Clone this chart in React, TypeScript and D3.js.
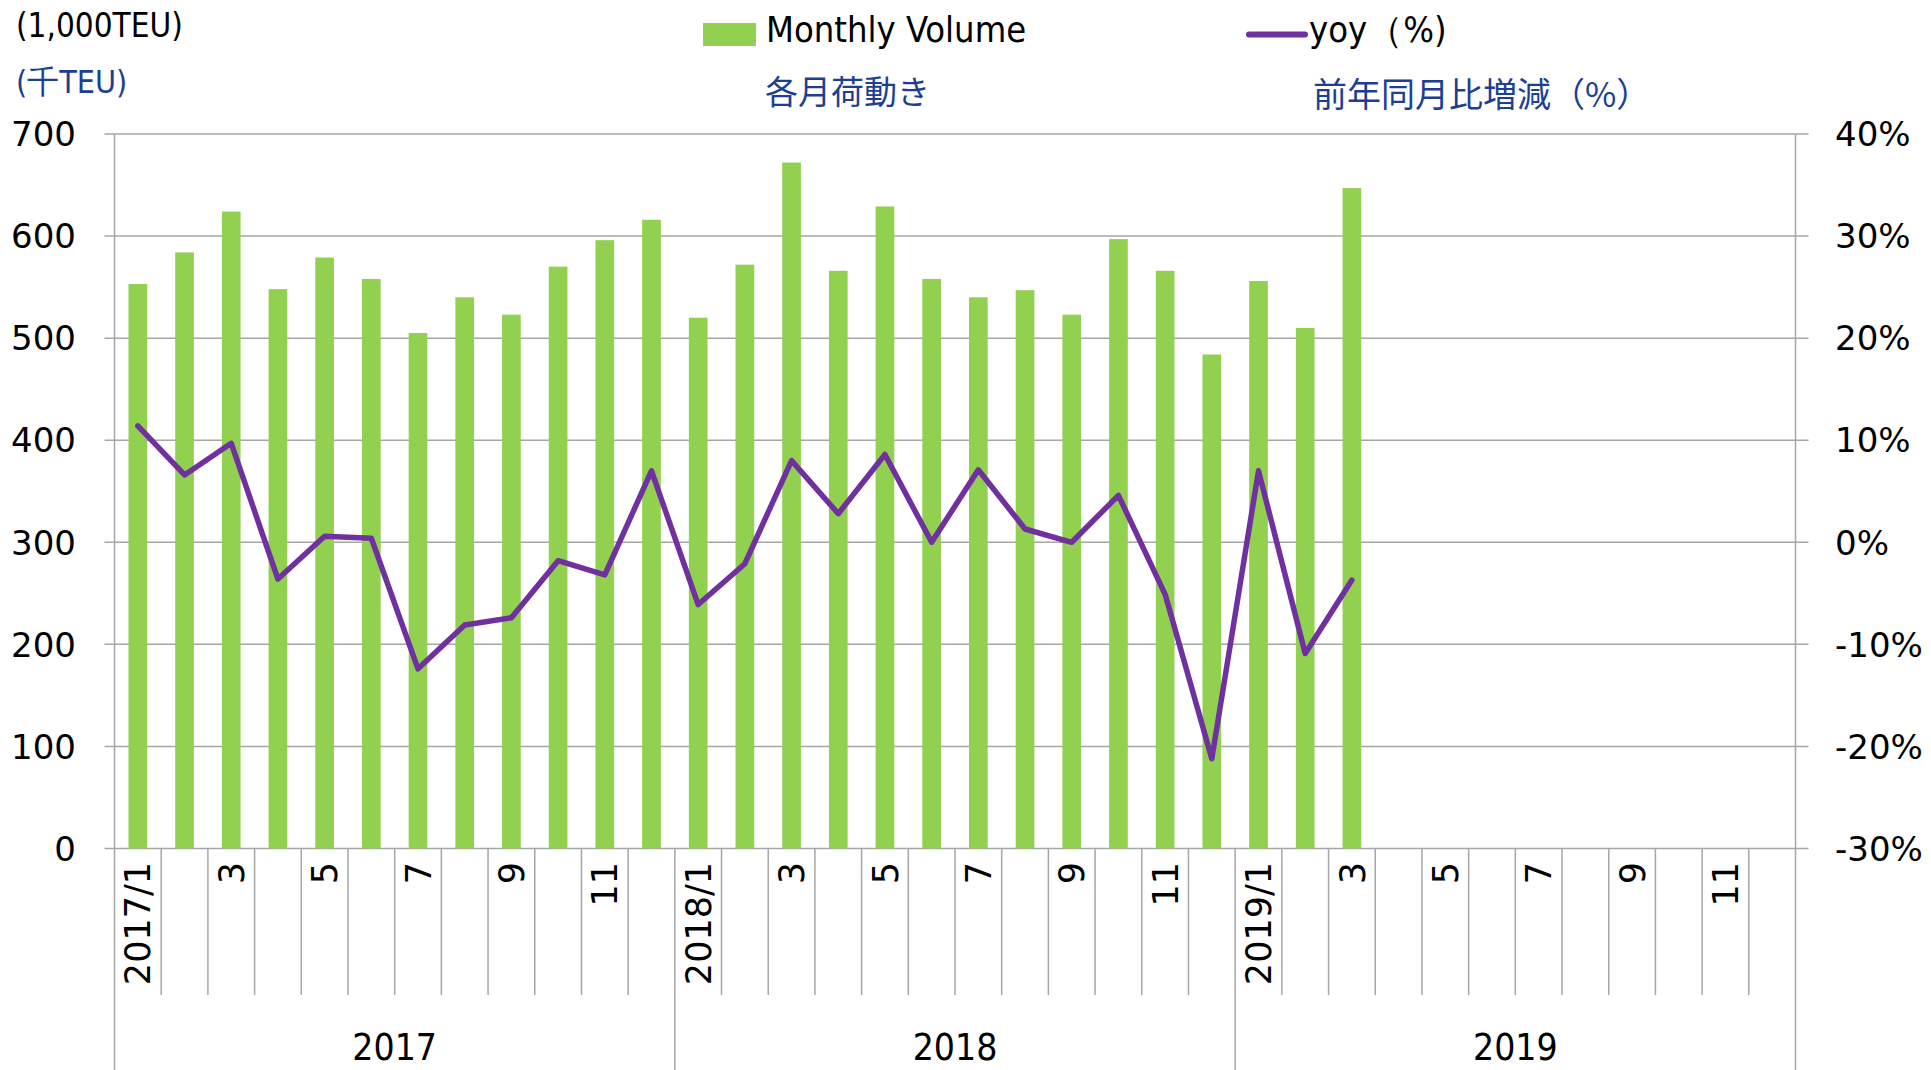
import * as d3 from 'd3';

// monthly container volume (1,000TEU) and yoy change (%)
const years = ['2017', '2018', '2019'];
const monthNums = [1, 2, 3, 4, 5, 6, 7, 8, 9, 10, 11, 12];
const volumes = [
  553, 584, 624, 548, 579, 558, 505, 540, 523, 570, 596, 616,
  520, 572, 672, 566, 629, 558, 540, 547, 523, 597, 566, 484,
  556, 510, 647,
];
const yoy = [
  11.4, 6.6, 9.7, -3.6, 0.6, 0.4, -12.4, -8.1, -7.4, -1.8, -3.2, 7.0,
  -6.1, -2.1, 8.0, 2.8, 8.6, 0.0, 7.1, 1.3, 0.0, 4.6, -5.1, -21.2,
  7.0, -10.9, -3.7,
];
const leftTicks = [0, 100, 200, 300, 400, 500, 600, 700];
const rightTicks = [-30, -20, -10, 0, 10, 20, 30, 40];

const categories = years.flatMap(y => monthNums.map(m => `${y}/${m}`));

const W = 1931;
const H = 1070;
const left = 114.5;
const right = 1795.5;
const top = 134;
const bottom = 848.5;

const grid = '#a6a6a6';
const blue = '#1c3f94';
const condensed = '"DejaVu Sans Condensed", "DejaVu Sans", sans-serif';
const sans = '"DejaVu Sans", Verdana, sans-serif';
const cjk = '"Noto Sans CJK JP", sans-serif';

export default function App() {
  const x = d3.scaleBand<string>()
    .domain(categories)
    .range([left, right])
    .paddingInner(0.6)
    .paddingOuter(0.3);
  const step = x.step();
  const yL = d3.scaleLinear().domain([0, 700]).range([bottom, top]);
  const yR = d3.scaleLinear().domain([-30, 40]).range([bottom, top]);

  const cx = (i: number) => (x(categories[i]) as number) + x.bandwidth() / 2;
  const boundary = (i: number) => left + i * step;

  const line = d3.line<number>()
    .x((_, i) => cx(i))
    .y(d => yR(d));

  return (
    <svg width={W} height={H} style={{ position: 'absolute', left: 0, top: 0, background: '#fff' }}>
      {/* gridlines */}
      {leftTicks.map(t => (
        <line key={t} x1={left - 10} x2={right + 13} y1={yL(t)} y2={yL(t)} stroke={grid} strokeWidth={1.5} />
      ))}
      {/* axes lines (run down through the category rows) */}
      <line x1={left} x2={left} y1={top} y2={H} stroke={grid} strokeWidth={1.5} />
      <line x1={right} x2={right} y1={top} y2={H} stroke={grid} strokeWidth={1.5} />

      {/* month separators */}
      {d3.range(1, categories.length).map(i => (
        <line key={i} x1={boundary(i)} x2={boundary(i)} y1={bottom} y2={i % 12 === 0 ? H : 995}
          stroke={grid} strokeWidth={1.5} />
      ))}

      {/* bars */}
      {volumes.map((v, i) => (
        <rect key={i} x={x(categories[i])} y={yL(v)} width={x.bandwidth()} height={yL(0) - yL(v)} fill="#92d050" />
      ))}

      {/* yoy line */}
      <path d={line(yoy) || ''} fill="none" stroke="#7030a0" strokeWidth={5.5}
        strokeLinejoin="round" strokeLinecap="round" />

      {/* left tick labels */}
      {leftTicks.map(t => (
        <text key={t} x={76} y={yL(t)} dy="0.36em" textAnchor="end" fontFamily={sans} fontSize={34} fill="#000">{t}</text>
      ))}
      {/* right tick labels */}
      {rightTicks.map(t => (
        <text key={t} x={1835} y={yR(t)} dy="0.36em" textAnchor="start" fontFamily={sans} fontSize={34} fill="#000">{`${t}%`}</text>
      ))}

      {/* month labels */}
      {categories.map((c, i) => {
        const m = i % 12 + 1;
        if (m % 2 === 0) return null;
        const label = m === 1 ? c : String(m);
        return (
          <text key={c} transform={`translate(${cx(i)},862) rotate(-90)`} textAnchor="end" dy="0.36em"
            fontFamily={sans} fontSize={35} fill="#000">{label}</text>
        );
      })}

      {/* year labels */}
      {years.map((y, j) => (
        <text key={y} x={(boundary(j * 12) + boundary(j * 12 + 12)) / 2} y={1060} textAnchor="middle"
          fontFamily={condensed} fontSize={37} fill="#000">{y}</text>
      ))}

      {/* unit labels */}
      <text x={16} y={37} fontFamily={condensed} fontSize={33} fill="#000">(1,000TEU)</text>
      <text x={16} y={93} fontFamily={condensed} fontSize={32} fill={blue}>(千TEU)</text>

      {/* legend */}
      <rect x={703} y={23} width={53} height={23} fill="#92d050" />
      <text x={766} y={42} fontFamily={condensed} fontSize={36} fill="#000">Monthly Volume</text>
      <line x1={1249} x2={1305} y1={34.5} y2={34.5} stroke="#7030a0" strokeWidth={6} strokeLinecap="round" />
      <text x={1309} y={42} fontFamily={condensed} fontSize={36} fill="#000">yoy（%)</text>

      <text x={765} y={104} fontFamily={cjk} fontSize={33} fill={blue}>各月荷動き</text>
      <text x={1313} y={107} fontFamily={cjk} fontSize={34} fill={blue}>前年同月比増減（%）</text>
    </svg>
  );
}
